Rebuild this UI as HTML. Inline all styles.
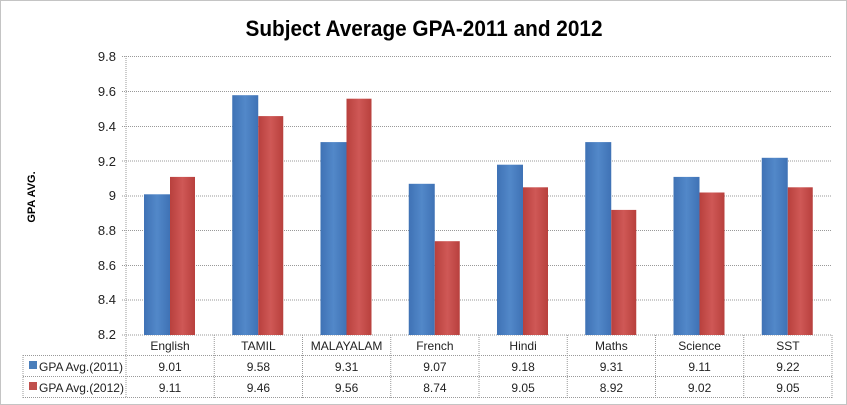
<!DOCTYPE html>
<html><head><meta charset="utf-8"><style>
body{margin:0;background:#fff}
svg{display:block;font-family:"Liberation Sans",sans-serif}
</style></head><body>
<svg width="847" height="405" viewBox="0 0 847 405" xmlns="http://www.w3.org/2000/svg">
<defs>
<linearGradient id="b" x1="0" x2="1"><stop offset="0" stop-color="#3f72b5"/><stop offset="0.5" stop-color="#5288c9"/><stop offset="1" stop-color="#3f72b5"/></linearGradient>
<linearGradient id="r" x1="0" x2="1"><stop offset="0" stop-color="#b8403d"/><stop offset="0.5" stop-color="#cf5856"/><stop offset="1" stop-color="#b8403d"/></linearGradient>
</defs>
<rect x="0.5" y="0.5" width="846" height="404" fill="#fff" stroke="#888" stroke-dasharray="1,1"/>
<text x="424" y="36" text-anchor="middle" font-size="22" font-weight="bold" textLength="357" lengthAdjust="spacingAndGlyphs">Subject Average GPA-2011 and 2012</text>
<text transform="translate(35,197) rotate(-90)" text-anchor="middle" font-size="11" font-weight="bold">GPA AVG.</text>
<g stroke="#999" stroke-dasharray="1,1">
<line x1="122" y1="56.5" x2="832" y2="56.5"/>
<line x1="122" y1="91.5" x2="832" y2="91.5"/>
<line x1="122" y1="126.5" x2="832" y2="126.5"/>
<line x1="122" y1="161" x2="832" y2="161"/>
<line x1="122" y1="196" x2="832" y2="196"/>
<line x1="122" y1="230.5" x2="832" y2="230.5"/>
<line x1="122" y1="265.5" x2="832" y2="265.5"/>
<line x1="122" y1="300" x2="832" y2="300"/>
<line x1="122" y1="335" x2="832" y2="335"/>
<line x1="126" y1="56" x2="126" y2="398"/>
<line x1="214.25" y1="335" x2="214.25" y2="398"/>
<line x1="302.5" y1="335" x2="302.5" y2="398"/>
<line x1="390.75" y1="335" x2="390.75" y2="398"/>
<line x1="479" y1="335" x2="479" y2="398"/>
<line x1="567.25" y1="335" x2="567.25" y2="398"/>
<line x1="655.5" y1="335" x2="655.5" y2="398"/>
<line x1="743.75" y1="335" x2="743.75" y2="398"/>
<line x1="832" y1="335" x2="832" y2="398"/>
<line x1="23" y1="355.5" x2="832" y2="355.5"/>
<line x1="23" y1="376.5" x2="832" y2="376.5"/>
<line x1="23" y1="397.5" x2="832" y2="397.5"/>
<line x1="23" y1="355" x2="23" y2="398"/>
</g>
<g font-size="13" fill="#222" text-anchor="end">
<text x="116" y="61">9.8</text><text x="116" y="96">9.6</text><text x="116" y="131">9.4</text>
<text x="116" y="166">9.2</text><text x="116" y="200">9</text><text x="116" y="235">8.8</text>
<text x="116" y="270">8.6</text><text x="116" y="304">8.4</text><text x="116" y="339">8.2</text>
</g>
<g fill="url(#b)">
<rect x="144" y="194.3" width="26" height="140.7"/>
<rect x="232.25" y="95.2" width="26" height="239.8"/>
<rect x="320.5" y="142.1" width="26" height="192.9"/>
<rect x="408.75" y="183.8" width="26" height="151.2"/>
<rect x="497" y="164.7" width="26" height="170.3"/>
<rect x="585.25" y="142.1" width="26" height="192.9"/>
<rect x="673.5" y="176.9" width="26" height="158.1"/>
<rect x="761.75" y="157.8" width="26" height="177.2"/>
</g>
<g fill="url(#r)">
<rect x="170" y="176.9" width="25" height="158.1"/>
<rect x="258.25" y="116.1" width="25" height="218.9"/>
<rect x="346.5" y="98.7" width="25" height="236.3"/>
<rect x="434.75" y="241.2" width="25" height="93.8"/>
<rect x="523" y="187.3" width="25" height="147.7"/>
<rect x="611.25" y="209.9" width="25" height="125.1"/>
<rect x="699.5" y="192.5" width="25" height="142.5"/>
<rect x="787.75" y="187.3" width="25" height="147.7"/>
</g>
<g font-size="12" fill="#222" text-anchor="middle">
<text x="170" y="350">English</text><text x="258.4" y="350">TAMIL</text><text x="346.6" y="350">MALAYALAM</text><text x="434.9" y="350">French</text>
<text x="523.1" y="350">Hindi</text><text x="611.4" y="350">Maths</text><text x="699.6" y="350">Science</text><text x="787.9" y="350">SST</text>
<text x="170" y="371">9.01</text><text x="258.4" y="371">9.58</text><text x="346.6" y="371">9.31</text><text x="434.9" y="371">9.07</text>
<text x="523.1" y="371">9.18</text><text x="611.4" y="371">9.31</text><text x="699.6" y="371">9.11</text><text x="787.9" y="371">9.22</text>
<text x="170" y="392">9.11</text><text x="258.4" y="392">9.46</text><text x="346.6" y="392">9.56</text><text x="434.9" y="392">8.74</text>
<text x="523.1" y="392">9.05</text><text x="611.4" y="392">8.92</text><text x="699.6" y="392">9.02</text><text x="787.9" y="392">9.05</text>
</g>
<rect x="29" y="361" width="8" height="8" fill="#4a7ebb"/>
<rect x="29" y="382" width="8" height="8" fill="#c0504d"/>
<g font-size="12" fill="#222">
<text x="39" y="371">GPA Avg.(2011)</text>
<text x="39" y="392">GPA Avg.(2012)</text>
</g>
</svg>
</body></html>
